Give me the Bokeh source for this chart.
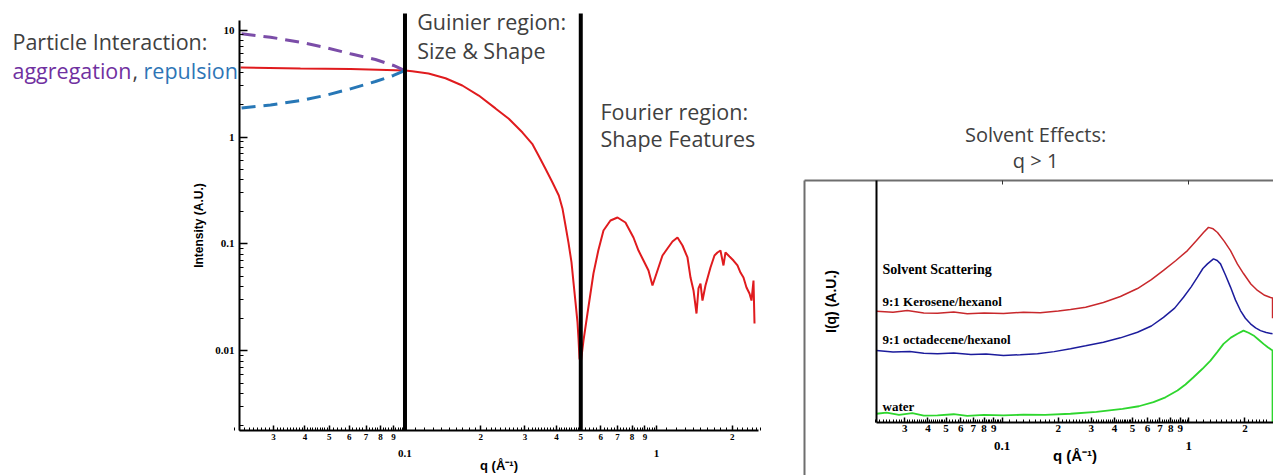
from bokeh.plotting import figure
from bokeh.layouts import row
from bokeh.models import Range1d, LogAxis, LinearAxis, FixedTicker, Label
from bokeh.embed import file_html
from bokeh.resources import INLINE

# ---------------- scattering curve (log-log) ----------------
q_main = [0.0222, 0.0384, 0.0607, 0.1, 0.1068, 0.124, 0.1449, 0.169, 0.1965, 0.229,
          0.2587, 0.2933, 0.3205, 0.3396, 0.3619, 0.3859, 0.4089, 0.4228, 0.4347, 0.4467,
          0.4592, 0.4677, 0.4764, 0.4852, 0.4897, 0.4941, 0.5, 0.5125, 0.5316, 0.5615,
          0.587, 0.6155, 0.6562, 0.6999, 0.7526, 0.81, 0.8481, 0.8878, 0.9294, 0.964,
          1.0092, 1.0565, 1.1058, 1.1578, 1.2121, 1.2689, 1.3283, 1.3655, 1.4035, 1.4424,
          1.469, 1.4962, 1.5237, 1.566, 1.6395, 1.7006, 1.7479, 1.7966, 1.8466, 1.8807,
          1.9509, 2.0237, 2.0991, 2.1576, 2.2178, 2.2797, 2.3433, 2.3865, 2.4308, 2.4532]
i_main = [4.46, 4.37, 4.32, 4.18, 4.12, 3.92, 3.54, 3.03, 2.44, 1.85,
          1.48, 1.10, 0.864, 0.672, 0.505, 0.376, 0.284, 0.215, 0.149, 0.103,
          0.0676, 0.0437, 0.0286, 0.0185, 0.013, 0.0085, 0.0078, 0.0125, 0.0224, 0.053,
          0.0869, 0.1337, 0.1658, 0.1769, 0.1589, 0.115, 0.0869, 0.0701, 0.0565, 0.0409,
          0.0565, 0.0781, 0.0908, 0.1055, 0.115, 0.0968, 0.0748, 0.0486, 0.0368, 0.0224,
          0.0384, 0.0427, 0.0296, 0.0409, 0.0603, 0.0781, 0.0833, 0.0869, 0.063, 0.0833,
          0.0764, 0.0701, 0.063, 0.0541, 0.0486, 0.0392, 0.0345, 0.0296, 0.0456, 0.0181]

# low-q behaviour with particle interactions
q_low = [0.0224, 0.0292, 0.0384, 0.0483, 0.0607, 0.0763, 0.0900, 0.1]
i_aggregation = [9.21, 8.56, 7.69, 6.86, 5.99, 5.30, 4.66, 4.18]
i_repulsion = [1.87, 1.99, 2.19, 2.45, 2.82, 3.30, 3.76, 4.18]

region_bounds = [0.1, 0.5]

# ---------------- solvent scattering (linear intensity) ----------------
q_kerosene = [0.0212, 0.026, 0.031, 0.038, 0.045, 0.055, 0.065, 0.08, 0.1016, 0.13,
              0.16, 0.2, 0.2323, 0.28, 0.3486, 0.43, 0.531, 0.63, 0.7318, 0.85,
              0.984, 1.1, 1.199, 1.275, 1.35, 1.425, 1.55, 1.673, 1.82, 1.964,
              2.15, 2.334, 2.55, 2.741, 2.81, 2.811]
i_kerosene = [0.459, 0.455, 0.462, 0.452, 0.451, 0.456, 0.449, 0.452, 0.450, 0.455,
              0.453, 0.460, 0.466, 0.476, 0.495, 0.520, 0.553, 0.590, 0.628, 0.668,
              0.710, 0.752, 0.785, 0.806, 0.800, 0.785, 0.748, 0.710, 0.655, 0.615,
              0.572, 0.545, 0.525, 0.516, 0.514, 0.430]

q_octadecene = [0.0212, 0.026, 0.032, 0.038, 0.045, 0.055, 0.068, 0.082, 0.1016, 0.125,
                0.1546, 0.19, 0.2323, 0.28, 0.3486, 0.43, 0.531, 0.63, 0.7318, 0.84,
                0.937, 1.03, 1.113, 1.19, 1.259, 1.356, 1.42, 1.479, 1.57, 1.673,
                1.78, 1.892, 2.01, 2.141, 2.28, 2.422, 2.6, 2.81]
i_octadecene = [0.297, 0.290, 0.293, 0.285, 0.283, 0.286, 0.280, 0.282, 0.276, 0.279,
                0.283, 0.292, 0.304, 0.316, 0.331, 0.349, 0.372, 0.398, 0.434, 0.472,
                0.517, 0.560, 0.600, 0.636, 0.655, 0.676, 0.669, 0.655, 0.610, 0.559,
                0.505, 0.462, 0.430, 0.407, 0.390, 0.379, 0.371, 0.366]

q_water = [0.0212, 0.024, 0.028, 0.033, 0.038, 0.045, 0.055, 0.065, 0.08, 0.1016,
           0.13, 0.17, 0.2323, 0.32, 0.4413, 0.54, 0.6467, 0.75, 0.8696, 0.96,
           1.0597, 1.18, 1.307, 1.42, 1.535, 1.68, 1.824, 1.964, 2.09, 2.222,
           2.36, 2.513, 2.65, 2.81, 2.811]
i_water = [0.035, 0.040, 0.030, 0.038, 0.027, 0.028, 0.033, 0.026, 0.030, 0.028,
           0.031, 0.030, 0.035, 0.043, 0.055, 0.066, 0.083, 0.103, 0.131, 0.156,
           0.186, 0.220, 0.255, 0.290, 0.324, 0.350, 0.366, 0.379, 0.370, 0.359,
           0.342, 0.324, 0.310, 0.297, 0.0]

# tick values and their labels
x_major = [0.03, 0.04, 0.05, 0.06, 0.07, 0.08, 0.09, 0.1,
           0.2, 0.3, 0.4, 0.5, 0.6, 0.7, 0.8, 0.9, 1.0, 2.0]
x_major_labels = ["3", "4", "5", "6", "7", "8", "9", "",
                  "2", "3", "4", "5", "6", "7", "8", "9", "", "2"]
x_decades = [0.1, 1.0]
x_decade_labels = ["0.1", "1"]
y_major = [0.01, 0.1, 1.0, 10.0]
y_major_labels = ["0.01", "0.1", "1", "10"]

# axis extents of the two panels
MAIN_Q = (0.02197, 2.544)
MAIN_I = (0.001807, 12.27)
MAIN_TOP = 14.26
INSET_Q = (0.0212, 2.844)
INSET_I = (0.0, 1.0)
BOX_Q = 0.008719
BOX_BOTTOM = -0.2205

TEXT_GREY = "#404040"
SERIF = "Liberation Serif"
SANS = "Liberation Sans"
NOTE_FONT = "Open Sans"


def minor_ticks(spans):
    ticks = []
    for lo, hi, step in spans:
        n = int(round((hi - lo) / step))
        for k in range(n + 1):
            ticks.append(round(lo + k * step, 5))
    return ticks


x_minor = minor_ticks([(0.021, 0.05, 0.001), (0.05, 0.1, 0.002), (0.1, 0.5, 0.01),
                       (0.5, 1.0, 0.02), (1.0, 2.6, 0.1)])
y_minor = [round(m * 10.0 ** e, 6) for e in range(-3, 1) for m in range(2, 10)]


def style_ticks(ax, size="9px"):
    ax.axis_line_width = 2
    ax.axis_line_color = "black"
    ax.major_tick_out = 0
    ax.minor_tick_out = 0
    ax.major_tick_line_width = 1.5
    ax.minor_tick_line_width = 1
    ax.major_label_text_font = SERIF
    ax.major_label_text_font_style = "bold"
    ax.major_label_text_font_size = size
    ax.major_label_text_color = "black"


def title_style(ax, size):
    ax.axis_label_text_font = SANS
    ax.axis_label_text_font_style = "bold"
    ax.axis_label_text_font_size = size
    ax.axis_label_text_color = "black"


def decade_axis(location, bounds, standoff, label_size, title, title_size, title_standoff):
    ax = LogAxis(fixed_location=location, bounds=bounds,
                 ticker=FixedTicker(ticks=x_decades, minor_ticks=[]),
                 major_label_overrides=dict(zip(x_decades, x_decade_labels)),
                 axis_line_color=None, major_tick_line_color=None,
                 minor_tick_line_color=None, major_label_standoff=standoff,
                 axis_label=title, axis_label_standoff=title_standoff)
    ax.major_label_text_font = SERIF
    ax.major_label_text_font_style = "bold"
    ax.major_label_text_font_size = label_size
    ax.major_label_text_color = "black"
    title_style(ax, title_size)
    return ax


def note(fig, text, x, y, color=TEXT_GREY, size="21.5px", font=NOTE_FONT,
         align="left", style="normal"):
    fig.add_layout(Label(x=x, y=y, text=text, text_color=color, text_font=font,
                         text_font_size=size, text_align=align,
                         text_baseline="alphabetic", text_font_style=style))


def blank(fig):
    fig.outline_line_color = None
    fig.grid.visible = False
    fig.background_fill_color = "white"
    fig.border_fill_color = "white"


# ================= main SAXS panel =================
p = figure(width=790, height=475, x_axis_type="log", y_axis_type="log",
           x_range=Range1d(0.002464, 3.411), y_range=Range1d(0.000686, 18.87),
           output_backend="svg", toolbar_location=None, min_border=0)
blank(p)
xa = p.below[0]
ya = p.left[0]

p.line(q_main, i_main, line_color="#E01B1E", line_width=2)
p.line(q_low, i_aggregation, line_color="#7B4DA8", line_width=3, line_dash="14 8")
p.line(q_low, i_repulsion, line_color="#2777B6", line_width=3, line_dash="14 8")
p.segment(x0=region_bounds, y0=[MAIN_I[0]] * 2, x1=region_bounds, y1=[MAIN_TOP] * 2,
          line_color="black", line_width=4)

xa.fixed_location = MAIN_I[0]
xa.bounds = MAIN_Q
xa.ticker = FixedTicker(ticks=x_major, minor_ticks=x_minor)
xa.major_label_overrides = dict(zip(x_major, x_major_labels))
style_ticks(xa, "9px")
xa.major_tick_in = 5
xa.minor_tick_in = 3
xa.major_label_standoff = 4

p.add_layout(decade_axis(MAIN_I[0], MAIN_Q, 14, "11px", "q (Å⁻¹)", "13px", -3), "below")

ya.fixed_location = MAIN_Q[0]
ya.bounds = MAIN_I
ya.ticker = FixedTicker(ticks=y_major, minor_ticks=y_minor)
ya.major_label_overrides = dict(zip(y_major, y_major_labels))
style_ticks(ya, "11px")
ya.major_tick_in = 8
ya.minor_tick_in = 4
ya.major_label_standoff = 5
ya.axis_label = "Intensity (A.U.)"
ya.axis_label_standoff = 6
title_style(ya, "12px")

note(p, "Particle Interaction:", 0.00275, 7.80)
note(p, "aggregation", 0.00275, 4.18, color="#7030A0")
note(p, ",", 0.00825, 4.18)
note(p, "repulsion", 0.00913, 4.18, color="#2E75B6")
note(p, "Guinier region:", 0.1118, 12.0)
note(p, "Size & Shape", 0.1118, 6.39)
note(p, "Fourier region:", 0.599, 1.719)
note(p, "Shape Features", 0.599, 0.968)

# ================= solvent scattering panel =================
s = figure(width=483, height=475, x_axis_type="log",
           x_range=Range1d(0.007337, 2.844), y_range=Range1d(-0.2205, 1.7447),
           output_backend="svg", toolbar_location=None, min_border=0)
blank(s)
sx = s.below[0]
sy = s.left[0]

s.line(q_kerosene, i_kerosene, line_color="#C8282C", line_width=1.5)
s.line(q_octadecene, i_octadecene, line_color="#1C1C9C", line_width=1.5)
s.line(q_water, i_water, line_color="#2ED62E", line_width=1.8)

sx.fixed_location = INSET_I[0]
sx.bounds = INSET_Q
sx.ticker = FixedTicker(ticks=x_major, minor_ticks=x_minor)
sx.major_label_overrides = dict(zip(x_major, x_major_labels))
style_ticks(sx, "11px")
sx.major_tick_in = 5
sx.minor_tick_in = 3
sx.major_label_standoff = 3

s.add_layout(decade_axis(INSET_I[0], INSET_Q, 14, "13px", "q (Å⁻¹)", "15px", -7), "below")

sy.fixed_location = INSET_Q[0]
sy.bounds = INSET_I
sy.ticker = FixedTicker(ticks=[], minor_ticks=[])
sy.axis_line_width = 2
sy.axis_line_color = "black"
sy.axis_label = "I(q) (A.U.)"
sy.axis_label_standoff = 38
title_style(sy, "14px")

# enclosing box: left and top edges
box_left = LinearAxis(fixed_location=BOX_Q, bounds=(BOX_BOTTOM, INSET_I[1]),
                      ticker=FixedTicker(ticks=[], minor_ticks=[]),
                      axis_line_color="#6E6E6E", axis_line_width=2)
s.add_layout(box_left, "left")
box_top = LogAxis(fixed_location=INSET_I[1], bounds=(BOX_Q, INSET_Q[1]),
                  ticker=FixedTicker(ticks=x_decades, minor_ticks=[]),
                  major_label_overrides={0.1: "", 1.0: ""},
                  axis_line_color="#6E6E6E", axis_line_width=2,
                  major_tick_in=4, major_tick_out=0, major_tick_line_color="#333333")
s.add_layout(box_top, "above")

note(s, "Solvent Effects:", 0.151, 1.190, size="20px", align="center")
note(s, "q > 1", 0.151, 1.083, size="20px", align="center")
note(s, "Solvent Scattering", 0.02283, 0.631, color="black", size="14px", font=SERIF, style="bold")
note(s, "9:1 Kerosene/hexanol", 0.02283, 0.499, color="black", size="13px", font=SERIF, style="bold")
note(s, "9:1 octadecene/hexanol", 0.02283, 0.343, color="black", size="13px", font=SERIF, style="bold")
note(s, "water", 0.02283, 0.067, color="black", size="13px", font=SERIF, style="bold")

layout = row(p, s, spacing=0)
open("out.html", "w").write(file_html(layout, INLINE))
